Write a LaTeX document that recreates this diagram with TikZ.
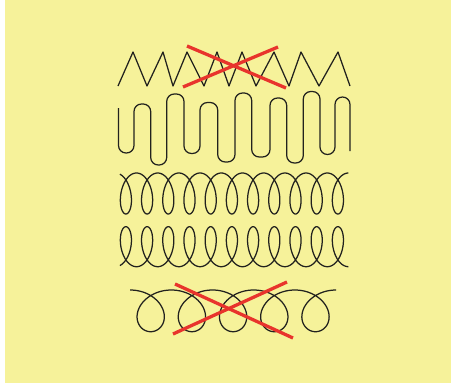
\documentclass[tikz,border=0pt]{standalone}
\usepackage{tikz}

\definecolor{paper}{RGB}{246,242,154}
\definecolor{wrongred}{RGB}{232,52,44}
\definecolor{thread}{RGB}{34,34,30}

\begin{document}
\begin{tikzpicture}[
  x=1pt, y=-1pt,
  stitch/.style={draw=thread, line width=1.25pt, line join=round},
  cross/.style={draw=wrongred, line width=3.3pt},
  meander/.style={stitch, rounded corners=7.5pt}
]

\useasboundingbox (0,0) rectangle (451,383);
\fill[paper] (5,0) rectangle (451,383);

\draw[stitch] (118,86) -- (133,52) -- (147,86) -- (163,52) -- (173,86) -- (187,52) -- (204,86) -- (217,52)
  -- (229,86) -- (242,52) -- (256,86) -- (274,52) -- (289,86) -- (301,52) -- (319,86) -- (338,52) -- (350,86);

\draw[meander] (118.5,108) -- (118.5,153) -- (134,153) -- (134,104) -- (150.7,104) -- (150.7,165)
  -- (166.7,165) -- (166.7,94) -- (184,94) -- (184,153.5) -- (200,153.5) -- (200,102.5)
  -- (217.7,102.5) -- (217.7,162) -- (235,162) -- (235,93) -- (251.7,93) -- (251.7,157)
  -- (270,157) -- (270,98) -- (286.7,98) -- (286.7,163) -- (303.3,163) -- (303.3,91.5)
  -- (320,91.5) -- (320,154.5) -- (335,154.5) -- (335,97) -- (350,97) -- (350,151);

\draw[stitch] plot[domain=-2.8:65.97, samples=700, variable=\t]
  ({125.9+3.374*\t-10.3*sin(\t r)}, {193.5+20.5*cos(\t r)});

\draw[stitch] plot[domain=-2.8:65.97, samples=700, variable=\t]
  ({125.9+3.374*\t-10.3*sin(\t r)}, {246.7-20*cos(\t r)});

\draw[stitch] plot[domain=-3.1416:28.274, samples=400, variable=\t]
  ({150.7+6.557*\t-23*sin(\t r)}, {310.85+20.85*cos(\t r)});

\draw[cross] (187,46) -- (286,88);
\draw[cross] (183,87) -- (278,47);

\draw[cross] (175,284) -- (293,338);
\draw[cross] (173,334) -- (287,282);

\end{tikzpicture}
\end{document}
